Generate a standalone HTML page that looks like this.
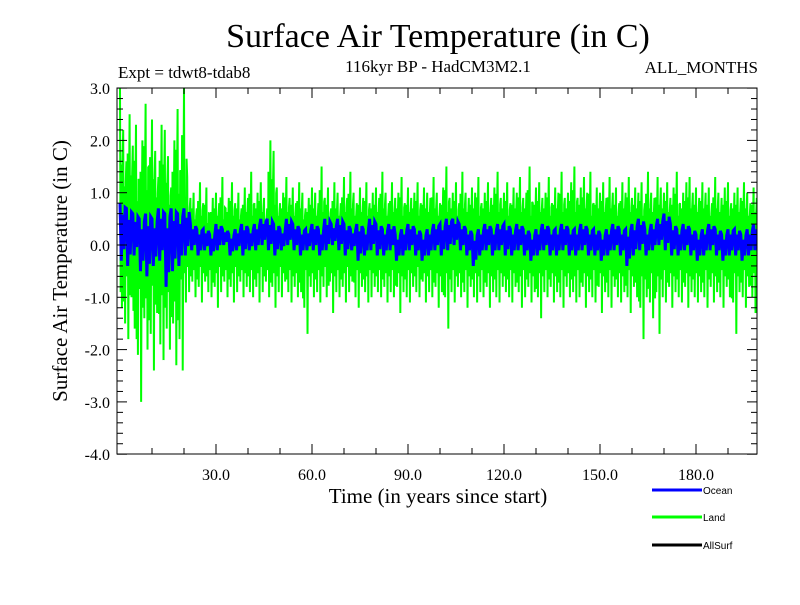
<!DOCTYPE html>
<html><head><meta charset="utf-8"><style>
body{margin:0;background:#fff;}
svg text{font-family:"Liberation Serif",serif;}
</style></head><body>
<svg id="chart" width="800" height="600" xmlns="http://www.w3.org/2000/svg">
<rect width="800" height="600" fill="#fff"/>
<text x="438" y="47" font-size="34" text-anchor="middle">Surface Air Temperature (in C)</text>
<text x="118" y="78" font-size="17">Expt = tdwt8-tdab8</text>
<text x="438" y="72" font-size="17" text-anchor="middle">116kyr BP - HadCM3M2.1</text>
<text x="758" y="73" font-size="17" text-anchor="end">ALL_MONTHS</text>
<text x="438" y="503" font-size="21" text-anchor="middle">Time (in years since start)</text>
<text transform="translate(67,271) rotate(-90)" font-size="21" text-anchor="middle">Surface Air Temperature (in C)</text>
<defs><clipPath id="pc"><rect x="117" y="88" width="640" height="366"/></clipPath></defs>
<g id="series" clip-path="url(#pc)"></g>
<g id="axes"></g>
<g font-size="10">
<line x1="652" y1="490" x2="702" y2="490" stroke="#0000ff" stroke-width="3"/>
<text x="703" y="494" style="font-family:'Liberation Sans',sans-serif">Ocean</text>
<line x1="652" y1="517" x2="702" y2="517" stroke="#00ff00" stroke-width="3"/>
<text x="703" y="521" style="font-family:'Liberation Sans',sans-serif">Land</text>
<line x1="652" y1="545" x2="702" y2="545" stroke="#000" stroke-width="3"/>
<text x="703" y="549" style="font-family:'Liberation Sans',sans-serif">AllSurf</text>
</g>
</svg>
<script>
const xTicks=[30,60,90,120,150,180];
const xTickLabels=["30.0","60.0","90.0","120.0","150.0","180.0"];
const yTicks=[3,2,1,0,-1,-2,-3,-4];
const yTickLabels=["3.0","2.0","1.0","0.0","-1.0","-2.0","-3.0","-4.0"];
const landHigh=[3.0,2.2,1.6,2.5,1.9,2.3,1.2,2.0,2.7,1.5,2.4,1.8,1.3,2.3,2.2,1.7,1.1,2.0,2.6,1.4,3.0,
1.3,0.9,1.0,0.7,1.2,0.8,1.1,0.6,0.9,1.0,0.8,1.3,0.7,0.9,1.2,0.8,1.0,0.7,1.1,0.9,
1.4,0.8,1.0,1.2,0.9,0.7,2.0,1.8,1.1,0.8,1.0,1.3,0.9,1.1,0.8,1.2,1.0,0.7,0.9,1.1,
1.0,0.8,1.5,0.9,1.1,0.7,1.2,1.0,0.8,1.3,0.9,1.4,1.0,0.8,1.1,0.9,1.2,0.8,1.0,1.1,
0.9,1.4,1.0,0.8,1.2,0.9,1.0,1.3,0.8,1.1,0.9,1.0,1.2,0.8,1.1,1.0,0.9,1.3,1.0,0.8,
1.1,1.5,0.9,1.0,1.2,0.8,1.4,1.0,0.9,1.1,1.0,1.3,0.8,1.0,1.2,0.9,1.1,1.4,0.9,1.0,
1.2,0.8,1.1,1.0,1.3,0.9,1.0,1.5,0.8,1.1,1.2,0.9,1.0,1.3,0.8,1.1,1.0,1.4,0.9,1.0,
1.2,1.5,0.9,1.1,1.3,1.0,1.4,0.8,1.1,1.0,1.2,0.9,1.3,1.0,1.1,0.8,1.2,1.0,1.3,0.9,
1.1,1.0,1.2,0.8,1.4,1.0,0.9,1.3,1.1,1.0,1.2,0.9,1.1,1.4,0.8,1.0,1.2,1.3,1.0,1.1,
0.9,1.2,1.0,1.1,0.8,1.3,1.0,0.9,1.1,1.2,0.8,1.0,1.1,0.9,1.2,1.0,0.8,1.1,0.9,1.0];
const landLow=[-1.2,-1.5,-1.8,-1.0,-1.6,-2.1,-3.0,-1.4,-2.0,-1.7,-2.4,-1.3,-1.9,-2.2,-1.6,-2.0,-1.5,-2.3,-1.8,-2.4,-1.1,
-0.9,-0.7,-1.0,-0.8,-1.1,-0.7,-0.9,-1.0,-0.8,-1.2,-0.9,-0.7,-1.0,-0.8,-1.1,-0.9,-0.7,-1.0,-0.8,-0.9,
-1.0,-0.8,-1.1,-0.9,-0.7,-1.0,-0.8,-1.2,-0.9,-1.0,-0.7,-0.9,-1.1,-0.8,-1.0,-0.9,-1.2,-1.7,-0.8,-1.0,
-0.9,-1.1,-0.8,-1.0,-0.7,-1.3,-0.9,-1.0,-0.8,-1.1,-0.9,-0.7,-1.0,-1.2,-0.8,-0.9,-1.1,-1.0,-0.8,-0.9,
-1.0,-0.8,-1.1,-0.9,-1.0,-0.8,-1.3,-0.9,-1.0,-1.1,-0.8,-0.9,-1.0,-0.7,-1.1,-0.9,-1.0,-0.8,-1.2,-0.9,
-1.0,-1.6,-0.9,-1.1,-0.8,-1.0,-0.9,-1.2,-0.8,-1.0,-1.1,-0.9,-1.0,-0.8,-1.2,-0.9,-1.0,-1.1,-0.8,-0.9,
-1.0,-1.1,-0.8,-0.9,-1.2,-1.0,-0.8,-1.1,-0.9,-1.0,-1.4,-0.9,-1.0,-0.8,-1.1,-0.9,-1.0,-1.2,-0.8,-1.0,
-0.9,-1.1,-1.0,-0.8,-1.2,-0.9,-1.0,-1.1,-0.8,-1.3,-0.9,-1.0,-1.2,-0.8,-1.0,-1.1,-0.9,-1.0,-1.3,-0.8,
-1.0,-1.2,-1.8,-1.0,-1.1,-1.4,-0.9,-1.7,-1.0,-1.1,-0.8,-1.2,-0.9,-1.0,-1.1,-0.8,-1.2,-0.9,-1.0,-1.1,
-0.9,-1.0,-1.2,-0.8,-1.1,-0.9,-1.0,-1.2,-0.8,-1.0,-1.1,-1.7,-0.9,-1.0,-1.2,-0.8,-1.0,-1.3,-0.9,-1.0];
const oceanHigh=[0.8,0.7,0.6,0.5,0.6,0.5,0.7,0.6,0.7,0.6,0.7,
0.4,0.3,0.3,0.2,0.4,0.3,0.2,0.3,0.4,0.3,
0.4,0.5,0.5,0.4,0.3,0.5,0.4,0.3,0.3,0.4,
0.3,0.5,0.4,0.5,0.4,0.3,0.4,0.3,0.5,0.4,
0.3,0.4,0.2,0.3,0.4,0.3,0.2,0.3,0.4,0.4,
0.5,0.5,0.4,0.3,0.2,0.3,0.4,0.3,0.4,0.4,
0.3,0.4,0.3,0.2,0.3,0.4,0.3,0.3,0.4,0.3,
0.3,0.4,0.3,0.3,0.2,0.3,0.4,0.3,0.3,0.4,
0.5,0.3,0.4,0.5,0.6,0.4,0.3,0.4,0.3,0.2,
0.3,0.4,0.3,0.2,0.3,0.3,0.2,0.3,0.4,0.4];
const oceanLow=[-0.3,-0.4,-0.2,-0.5,-0.6,-0.4,-0.3,-0.8,-0.5,-0.4,-0.2,
-0.1,-0.2,-0.1,-0.2,-0.1,0.0,-0.2,-0.1,-0.2,-0.1,
-0.1,0.0,-0.1,-0.2,-0.1,0.0,-0.1,-0.2,-0.1,-0.1,
-0.2,-0.1,0.0,-0.1,-0.2,-0.1,-0.3,-0.2,-0.1,-0.2,
-0.2,-0.1,-0.3,-0.2,-0.1,-0.2,-0.3,-0.2,-0.1,-0.2,
-0.1,0.0,-0.1,-0.2,-0.4,-0.2,-0.1,-0.2,-0.1,-0.2,
-0.2,-0.1,-0.2,-0.3,-0.2,-0.1,-0.2,-0.2,-0.1,-0.2,
-0.2,-0.1,-0.2,-0.2,-0.3,-0.2,-0.1,-0.2,-0.4,-0.2,
-0.1,-0.2,-0.1,0.0,-0.1,-0.2,-0.2,-0.1,-0.2,-0.3,
-0.2,-0.1,-0.2,-0.3,-0.2,-0.2,-0.3,-0.2,-0.1,-0.2];

const NS='http://www.w3.org/2000/svg';
const X=t=>120+3.2*t;
const Y=v=>245-52.3*v;
function mk(tag,attrs,parent){const e=document.createElementNS(NS,tag);for(const k in attrs)e.setAttribute(k,attrs[k]);parent.appendChild(e);return e;}
const series=document.getElementById('series');
const axes=document.getElementById('axes');

const zl=mk('line',{x1:117,x2:757,y1:Y(0),y2:Y(0),stroke:'#000','stroke-width':1,'stroke-dasharray':'6,4'},series);



// land: several monthly-style swings per year within the year's envelope
let lp=[];
for(let i=0;i<landHigh.length;i++){
  const h=landHigh[i],l=landLow[i];
  const nh=landHigh[Math.min(i+1,landHigh.length-1)],nl=landLow[Math.min(i+1,landLow.length-1)];
  lp.push(X(i)+','+Y(h));
  lp.push(X(i+0.2)+','+Y(nl*0.6));
  lp.push(X(i+0.4)+','+Y(nh*0.7));
  lp.push(X(i+0.6)+','+Y(l));
  lp.push(X(i+0.8)+','+Y(h*0.55));
}
const land=mk('polyline',{points:lp.join(' '),fill:'none',stroke:'#00ff00','stroke-width':2},series);



let op=[];
for(let i=0;i<oceanHigh.length;i++){const t=i*2;const h=oceanHigh[i],l=oceanLow[i];
  op.push(X(t)+','+Y(h));
  op.push(X(t+0.4)+','+Y(l));
  op.push(X(t+0.8)+','+Y(h*0.8+l*0.2));
  op.push(X(t+1.2)+','+Y(l*0.8+h*0.2));
  op.push(X(t+1.6)+','+Y(h*0.9));
}
const ocean=mk('polyline',{points:op.join(' '),fill:'none',stroke:'#0000ff','stroke-width':3},series);



const frame=mk('rect',{x:117,y:88,width:640,height:366,fill:'none',stroke:'#000','stroke-width':1},axes);



for(let t=10;t<200;t+=10){const major=t%30===0;const len=major?10:6;
 mk('line',{x1:X(t),x2:X(t),y1:454,y2:454-len,stroke:'#000'},axes);
 mk('line',{x1:X(t),x2:X(t),y1:88,y2:88+len,stroke:'#000'},axes);}
for(let v=-4;v<=3.001;v+=0.2){const major=Math.abs(v-Math.round(v))<0.01;const len=major?10:6;
 mk('line',{x1:117,x2:117+len,y1:Y(v),y2:Y(v),stroke:'#000'},axes);
 mk('line',{x1:757,x2:757-len,y1:Y(v),y2:Y(v),stroke:'#000'},axes);}
xTicks.forEach((t,i)=>{const e=mk('text',{x:X(t),y:480,'font-size':16,'text-anchor':'middle'},axes);e.textContent=xTickLabels[i];
 
 });
yTicks.forEach((v,i)=>{const e=mk('text',{x:110,y:Y(v)+6,'font-size':16,'text-anchor':'end'},axes);e.textContent=yTickLabels[i];
 
 });
</script>
</body></html>
